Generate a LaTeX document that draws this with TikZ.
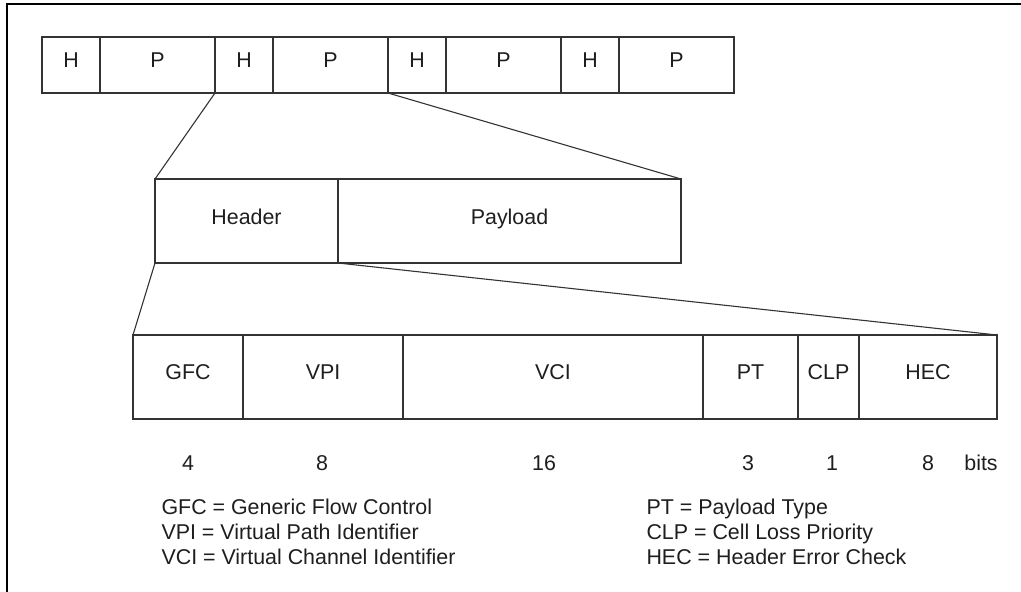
\documentclass[tikz,border=0pt]{standalone}
\usepackage{fontspec}
\setmainfont{Liberation Sans}
\definecolor{ink}{HTML}{333333}
\definecolor{txt}{HTML}{1E1E1E}
\begin{document}
\begin{tikzpicture}[x=1pt,y=-1pt,
  every node/.style={font=\fontsize{21.4}{25}\selectfont, text=txt},
  cell/.style={draw=ink, line width=1.1pt, rectangle, inner sep=0pt, outer sep=0pt,
    anchor=north west, text height=0.72em, text depth=0pt},
  lowtext/.style={text depth=0.25em, text height=0.72em},
  link/.style={draw=ink, line width=1.1pt},
  num/.style={anchor=base},
  legend/.style={anchor=base west}]
\useasboundingbox (0,0) rectangle (1021,592);
\clip (0,0) rectangle (1021,592);
% outer frame
\draw[line width=2.7pt] (7,4) rectangle (1040,610);

% cell stream
\node[cell, minimum width=58,  minimum height=56, text depth=0.15em] (t1) at (42,37)  {H};
\node[cell, minimum width=115, minimum height=56, text depth=0.15em] (t2) at (100,37) {P};
\node[cell, minimum width=58,  minimum height=56, text depth=0.15em] (t3) at (215,37) {H};
\node[cell, minimum width=115, minimum height=56, text depth=0.15em] (t4) at (273,37) {P};
\node[cell, minimum width=58,  minimum height=56, text depth=0.15em] (t5) at (388,37) {H};
\node[cell, minimum width=115, minimum height=56, text depth=0.15em] (t6) at (446,37) {P};
\node[cell, minimum width=58,  minimum height=56, text depth=0.15em] (t7) at (561,37) {H};
\node[cell, minimum width=115, minimum height=56, text depth=0.15em] (t8) at (619,37) {P};

% one cell
\node[cell, minimum width=183, minimum height=84] (m1) at (155,179) {Header};
\node[cell, minimum width=343, minimum height=84] (m2) at (338,179) {Payload};

% header fields
\node[cell, minimum width=110, minimum height=84, text depth=0.25em] (b1) at (133,335) {GFC};
\node[cell, minimum width=160, minimum height=84, text depth=0.25em] (b2) at (243,335) {VPI};
\node[cell, minimum width=300, minimum height=84, text depth=0.25em] (b3) at (403,335) {VCI};
\node[cell, minimum width=95,  minimum height=84, text depth=0.25em] (b4) at (703,335) {PT};
\node[cell, minimum width=61,  minimum height=84, text depth=0.25em] (b5) at (798,335) {CLP};
\node[cell, minimum width=138, minimum height=84, text depth=0.25em] (b6) at (859,335) {HEC};

% expansion lines
\draw[link] (t3.south west) -- (m1.north west);
\draw[link] (t4.south east) -- (m2.north east);
\draw[link] (m1.south west) -- (b1.north west);
\draw[link] (m1.south east) -- (b6.north east);

% field widths
\node[num] (n1) at (188,470) {4};
\node[num] (n2) at (322,470) {8};
\node[num] (n3) at (544,470) {16};
\node[num] (n4) at (748,470) {3};
\node[num] (n5) at (832,470) {1};
\node[num] (n6) at (928,470) {8};
\node[num] (n7) at (981,470) {bits};

% abbreviations
\node[legend] (l1) at (158,514) {GFC = Generic Flow Control};
\node[legend] (l2) at (158,539) {VPI = Virtual Path Identifier};
\node[legend] (l3) at (158,564) {VCI = Virtual Channel Identifier};
\node[legend] (r1) at (643,514) {PT = Payload Type};
\node[legend] (r2) at (643,539) {CLP = Cell Loss Priority};
\node[legend] (r3) at (643,564) {HEC = Header Error Check};
\end{tikzpicture}
\end{document}
